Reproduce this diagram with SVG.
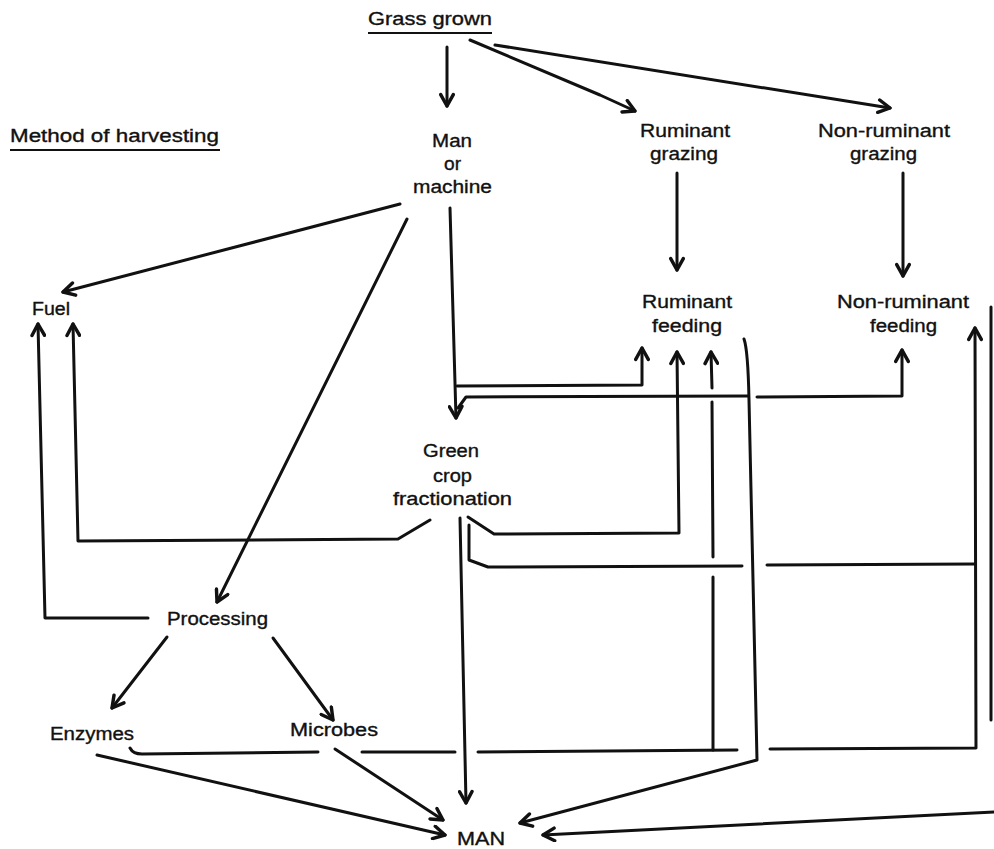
<svg xmlns="http://www.w3.org/2000/svg" width="994" height="849" viewBox="0 0 994 849">
<style>
text{font-family:"Liberation Sans",Arial,sans-serif;font-size:18px;fill:#111;stroke:#111;stroke-width:0.35}
.c path,.c line,.c polyline{fill:none;stroke:#111;stroke-width:3;stroke-linejoin:round;stroke-linecap:round}
.a{marker-end:url(#ah)}
</style>
<defs>
<marker id="ah" viewBox="0 0 14 14" refX="12" refY="7" markerWidth="16" markerHeight="16" orient="auto" markerUnits="userSpaceOnUse">
<path d="M2,1.5 L12,7 L2,12.5" fill="none" stroke="#111" stroke-width="3" stroke-linecap="round" stroke-linejoin="round"/>
</marker>
</defs>
<rect width="994" height="849" fill="#fff"/>

<g id="grass"><text x="368" y="25" textLength="124" lengthAdjust="spacingAndGlyphs">Grass grown</text><line x1="368" y1="33" x2="492" y2="33" stroke="#111" stroke-width="2"/></g>
<g id="method"><text x="10" y="142" textLength="209" lengthAdjust="spacingAndGlyphs">Method of harvesting</text><line x1="10" y1="150" x2="220" y2="150" stroke="#111" stroke-width="2"/></g>
<g id="man-machine"><text x="432" y="147" textLength="40" lengthAdjust="spacingAndGlyphs">Man</text><text x="444" y="170" textLength="17" lengthAdjust="spacingAndGlyphs">or</text><text x="413" y="193" textLength="79" lengthAdjust="spacingAndGlyphs">machine</text></g>
<g id="ruminant-grazing"><text x="640" y="137" textLength="90" lengthAdjust="spacingAndGlyphs">Ruminant</text><text x="650" y="160" textLength="68" lengthAdjust="spacingAndGlyphs">grazing</text></g>
<g id="nonruminant-grazing"><text x="818" y="137" textLength="132" lengthAdjust="spacingAndGlyphs">Non-ruminant</text><text x="850" y="160" textLength="67" lengthAdjust="spacingAndGlyphs">grazing</text></g>
<g id="fuel"><text x="32" y="315" textLength="38" lengthAdjust="spacingAndGlyphs">Fuel</text></g>
<g id="ruminant-feeding"><text x="642" y="308" textLength="90" lengthAdjust="spacingAndGlyphs">Ruminant</text><text x="652" y="332" textLength="70" lengthAdjust="spacingAndGlyphs">feeding</text></g>
<g id="nonruminant-feeding"><text x="837" y="308" textLength="132" lengthAdjust="spacingAndGlyphs">Non-ruminant</text><text x="870" y="332" textLength="67" lengthAdjust="spacingAndGlyphs">feeding</text></g>
<g id="green-crop"><text x="423" y="457" textLength="56" lengthAdjust="spacingAndGlyphs">Green</text><text x="433" y="482" textLength="39" lengthAdjust="spacingAndGlyphs">crop</text><text x="393" y="505" textLength="119" lengthAdjust="spacingAndGlyphs">fractionation</text></g>
<g id="processing"><text x="167" y="625" textLength="101" lengthAdjust="spacingAndGlyphs">Processing</text></g>
<g id="enzymes"><text x="50" y="740" textLength="84" lengthAdjust="spacingAndGlyphs">Enzymes</text></g>
<g id="microbes"><text x="290" y="736" textLength="88" lengthAdjust="spacingAndGlyphs">Microbes</text></g>
<g id="man"><text x="457" y="845" textLength="48" lengthAdjust="spacingAndGlyphs">MAN</text></g>

<g id="connectors" class="c">
<line class="a" x1="447" y1="47" x2="447" y2="106"/>
<path class="a" d="M470,40 L600,95 L635,111"/>
<path class="a" d="M495,45 L890,108"/>
<line class="a" x1="677" y1="173" x2="677" y2="270"/>
<line class="a" x1="903" y1="173" x2="903" y2="276"/>
<path class="a" d="M400,204 L63,292"/>
<path class="a" d="M407,219 L217,602"/>
<path class="a" d="M450,208 L456,418"/>
<path class="a" d="M457,386 L642,385 L642,348"/>
<path d="M458,408 L466,397 L748,396"/>
<path class="a" d="M757,397 L902,396 L902,350"/>
<path class="a" d="M430,520 L398,539 L78,541 L73,324"/>
<path class="a" d="M148,618 L45,618 L38,324"/>
<path class="a" d="M468,517 L494,534 L679,533 L677,352"/>
<path d="M469,525 L469,560 L488,567 L742,566"/>
<path d="M767,565 L975,564"/>
<path class="a" d="M460,518 L466,803"/>
<path class="a" d="M167,637 L112,708"/>
<path class="a" d="M273,638 L333,720"/>
<path class="a" d="M97,755 L445,835"/>
<path class="a" d="M335,749 L443,820"/>
<path d="M130,748 Q133,754 142,754 L318,752"/>
<path d="M362,752 L455,752"/>
<path d="M478,752 L737,750"/>
<path d="M713,750 L713,577"/>
<path d="M713,557 L712,402"/>
<path class="a" d="M712,388 L711,352"/>
<path class="a" d="M770,749 L976,748 L975,328"/>
<path class="a" d="M744,339 Q748,350 749,400 L757,760 L520,823"/>
<line x1="991" y1="307" x2="991" y2="720"/>
<path class="a" d="M994,812 L543,835"/>
</g>
</svg>
